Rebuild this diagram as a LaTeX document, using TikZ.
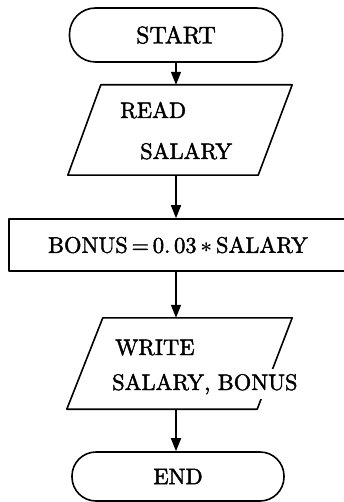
\documentclass[tikz,border=0pt]{standalone}
\usepackage{fontspec}
\newfontfamily\labfont{lmroman10-regular.otf}[FakeBold=1.8]
\usetikzlibrary{arrows.meta}
\begin{document}
\begin{tikzpicture}[x=1pt,y=-1pt,
  lw/.style={line width=1.6pt, line join=round},
  arr/.style={lw,-{Triangle[width=10pt,length=13pt]}},
  txt/.style={font=\labfont\fontsize{22.5}{27}\selectfont},
  lbl/.style={txt, inner sep=0pt, anchor=base west},
  term/.style={draw, lw, txt, rounded corners=26pt, inner sep=0pt},
  procbox/.style={draw, lw, txt, inner sep=0pt},
  iobox/.style={inner sep=0pt, minimum width=190pt}
]
\useasboundingbox (0,0) rectangle (343,502);

% START
\node[term, minimum width=213pt, minimum height=54pt, font=\labfont\fontsize{24}{28}\selectfont] (start) at (176,35) {START};

% READ parallelogram
\node[iobox, minimum height=90pt] (read) at (176,130) {};
\draw[lw] ([xshift=20pt]read.north west) -- ([xshift=21pt]read.north east)
  -- ([xshift=-13pt]read.south east) -- ([xshift=-13pt]read.south west) -- cycle;
\node[lbl] (readw) at (120,118) {READ};
\node[lbl] (readsal) at (140,159) {SALARY};

% BONUS box
\node[procbox, minimum width=338pt, minimum height=52pt] (bonus) at (178,245)
  {BONUS\,=\,0.\,03\,{\boldmath$\ast$}\,SALARY};

% WRITE parallelogram
\node[iobox, minimum height=91pt] (write) at (176,363.5) {};
\draw[lw] ([xshift=22pt]write.north west) -- ([xshift=21pt]write.north east)
  -- ([xshift=-14pt]write.south east) -- ([xshift=-14pt]write.south west) -- cycle;
\node[lbl] (writew) at (115,355) {WRITE};
\node[lbl, fill=white, inner ysep=5pt] (writesal) at (112,390) {SALARY, BONUS};

% END
\node[term, rounded corners=24pt, minimum width=212pt, minimum height=49pt] (end) at (178,476.5) {END};

% connectors
\draw[arr] (start.south) -- (read.north);
\draw[arr] (read.south) -- (read.south |- bonus.north);
\draw[arr] (bonus.south -| write.north) -- (write.north);
\draw[arr] (write.south) -- (write.south |- end.north);
\end{tikzpicture}
\end{document}
